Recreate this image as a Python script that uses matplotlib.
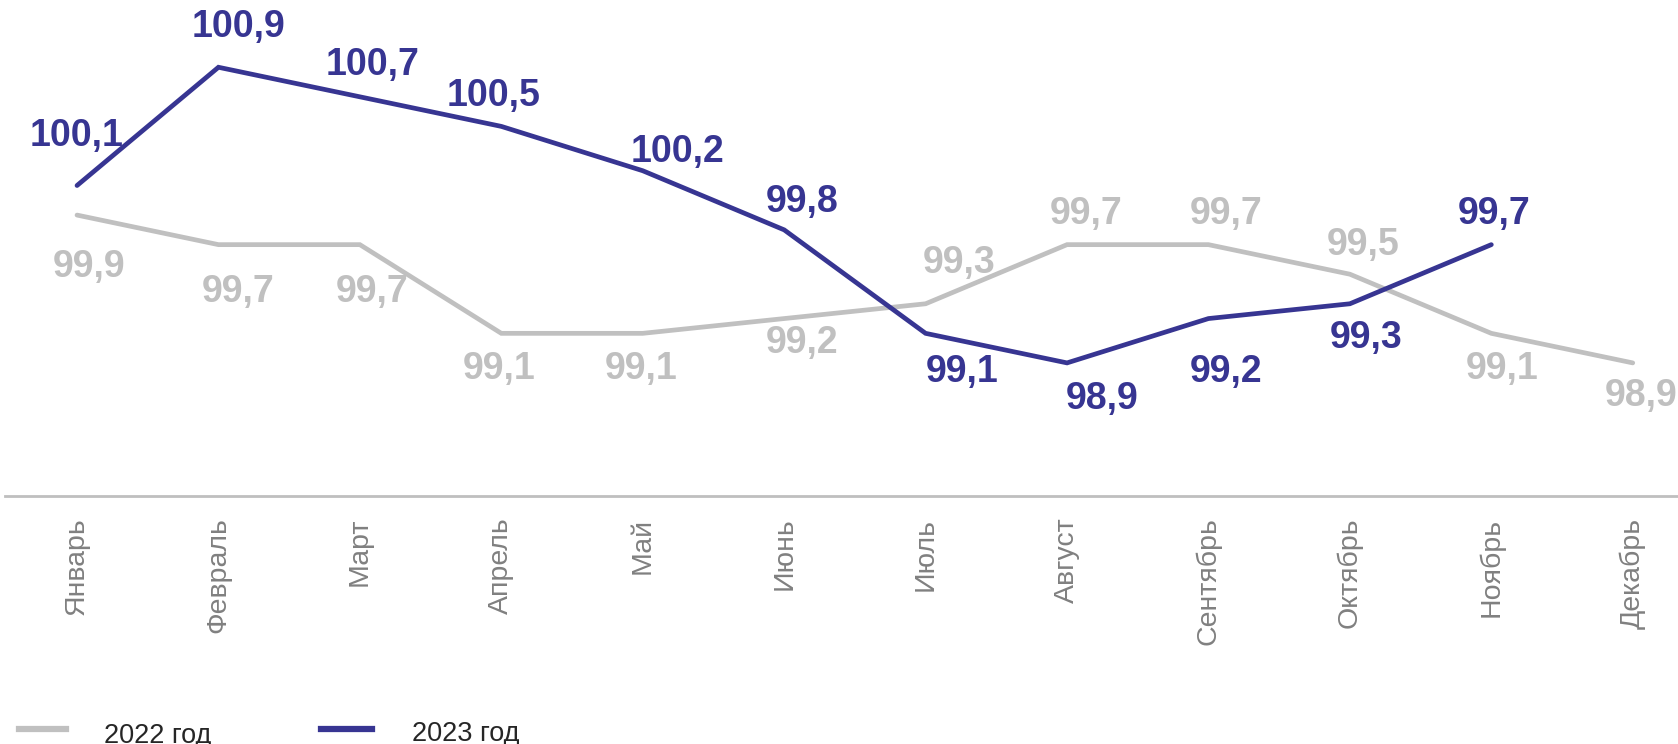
import matplotlib
matplotlib.use("Agg")
import matplotlib.pyplot as plt

plt.rcParams['font.family'] = ['Liberation Sans', 'DejaVu Sans']

MONTHS = ['Январь', 'Февраль', 'Март', 'Апрель', 'Май', 'Июнь', 'Июль', 'Август',
          'Сентябрь', 'Октябрь', 'Ноябрь', 'Декабрь']
VALUES_2022 = [99.9, 99.7, 99.7, 99.1, 99.1, 99.2, 99.3, 99.7, 99.7, 99.5, 99.1, 98.9]
VALUES_2023 = [100.1, 100.9, 100.7, 100.5, 100.2, 99.8, 99.1, 98.9, 99.2, 99.3, 99.7]
LEGEND = ['2022 год', '2023 год']

GRAY = '#C0C0C0'
NAVY = '#373592'

# label offsets in pixels (dx, dy), picked by eye from the reference
OFFS_2022 = [(12, -52), (20, -47), (12, -47), (-2, -36), (-2, -36), (18, -24),
             (34, 41), (19, 31), (18, 31), (13, 29), (11, -36), (8, -33)]
OFFS_2023 = [(0, 50), (20, 40), (13, 32), (-8, 30), (35, 19), (18, 28),
             (37, -39), (35, -36), (18, -53), (16, -34), (3, 31)]


def fmt(v):
    # decimal comma
    return ('%.1f' % v).replace('.', ',')


def main():
    fig = plt.figure(figsize=(16.78, 7.44), dpi=100)
    ax = fig.add_axes([0.003, 1 - 495.5 / 744, 0.997, 495.5 / 744])

    x22 = list(range(len(VALUES_2022)))
    x23 = list(range(len(VALUES_2023)))
    ax.plot(x22, VALUES_2022, color=GRAY, lw=3.4, solid_capstyle='round', solid_joinstyle='miter')
    ax.plot(x23, VALUES_2023, color=NAVY, lw=3.4, solid_capstyle='round', solid_joinstyle='miter')

    for i, v in enumerate(VALUES_2022):
        ax.annotate(fmt(v), (i, v), xytext=OFFS_2022[i], textcoords='offset pixels',
                    ha='center', va='center', fontsize=27, fontweight='bold', color=GRAY)
    for i, v in enumerate(VALUES_2023):
        ax.annotate(fmt(v), (i, v), xytext=OFFS_2023[i], textcoords='offset pixels',
                    ha='center', va='center', fontsize=27, fontweight='bold', color=NAVY)

    ax.set_xlim(-0.509, 11.32)
    ax.set_ylim(98.003, 101.355)
    for s in ['top', 'right', 'left']:
        ax.spines[s].set_visible(False)
    ax.spines['bottom'].set_color('#BFBFBF')
    ax.spines['bottom'].set_linewidth(2)
    ax.set_yticks([])
    ax.set_xticks(x22)
    ax.set_xticklabels(MONTHS, rotation=90, fontsize=20.5, color='#808080', va='top')
    ax.tick_params(axis='x', length=0, pad=16)

    # legend drawn by hand along the bottom edge
    fig.add_artist(plt.Line2D([19 / 1678, 66 / 1678], [1 - 729 / 744] * 2, color=GRAY, lw=4.5))
    fig.add_artist(plt.Line2D([321 / 1678, 372 / 1678], [1 - 729 / 744] * 2, color=NAVY, lw=4.5))
    fig.text(104 / 1678, 1 - 743 / 744, LEGEND[0], fontsize=19.5, color='#262626', va='baseline')
    fig.text(412 / 1678, 1 - 741 / 744, LEGEND[1], fontsize=19.5, color='#262626', va='baseline')

    fig.savefig('out.png', dpi=100)


if __name__ == "__main__":
    main()
